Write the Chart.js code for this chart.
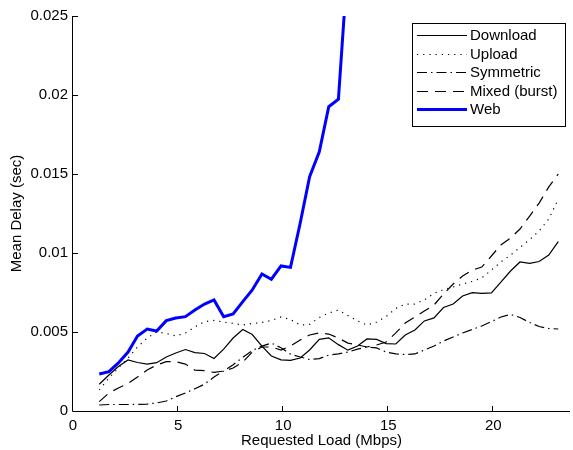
<!DOCTYPE html>
<html lang="en">
<head>
<meta charset="UTF-8">
<title>Mean Delay vs Requested Load</title>
<script src="https://cdn.jsdelivr.net/npm/chart.js"></script>
<style>
    body {
        margin: 0;
        padding: 0;
        background: white;
    }
</style>
</head>
<body>
<canvas id="myChart" width="573" height="450"></canvas>
<script>
    // requested load (Mbps), one entry per measurement point
    const loads = [1.25, 1.71, 2.16, 2.62, 3.07, 3.53, 3.98, 4.44, 4.89, 5.35,
        5.80, 6.26, 6.71, 7.17, 7.62, 8.08, 8.53, 8.99, 9.44, 9.90,
        10.35, 10.81, 11.26, 11.72, 12.17, 12.63, 13.08, 13.54, 13.99, 14.45,
        14.90, 15.36, 15.81, 16.27, 16.72, 17.18, 17.63, 18.09, 18.54, 19.00,
        19.45, 19.91, 20.36, 20.82, 21.27, 21.73, 22.18, 22.64, 23.09];

    // mean delay (sec)
    const download = [0.00169, 0.00228, 0.00282, 0.00323, 0.00307, 0.00297, 0.00306, 0.00342, 0.00367, 0.00389,
        0.0037, 0.00364, 0.00332, 0.00392, 0.00462, 0.00516, 0.00484, 0.00411, 0.00348, 0.00324,
        0.0032, 0.00335, 0.00386, 0.00453, 0.00463, 0.0042, 0.00385, 0.00411, 0.00456, 0.00453,
        0.00427, 0.00424, 0.00481, 0.00513, 0.0057, 0.00589, 0.00655, 0.00677, 0.00728, 0.00749,
        0.00744, 0.00747, 0.00816, 0.00886, 0.00943, 0.00935, 0.00946, 0.00987, 0.01072];
    const upload = [0.00133, 0.00209, 0.00272, 0.00335, 0.00405, 0.00462, 0.005, 0.00491, 0.00475, 0.00494,
        0.00532, 0.00566, 0.00573, 0.00563, 0.00554, 0.00544, 0.00554, 0.0056, 0.00573, 0.00595,
        0.00579, 0.00544, 0.00548, 0.00592, 0.0062, 0.00639, 0.00604, 0.0057, 0.00544, 0.00563,
        0.00598, 0.00649, 0.00677, 0.00677, 0.00703, 0.00744, 0.00769, 0.00785, 0.00804, 0.0082,
        0.00842, 0.00892, 0.00943, 0.00987, 0.01035, 0.01085, 0.01139, 0.01215, 0.0134];
    const symmetric = [0.00038, 0.00041, 0.00041, 0.00041, 0.00042, 0.00044, 0.00051, 0.00063, 0.0009, 0.00114,
        0.00141, 0.0017, 0.00215, 0.00253, 0.00293, 0.0034, 0.00383, 0.00411, 0.0043, 0.004,
        0.0036, 0.00342, 0.00326, 0.00332, 0.00354, 0.00361, 0.00373, 0.00392, 0.00405, 0.00399,
        0.00373, 0.00361, 0.00358, 0.00361, 0.00386, 0.00411, 0.00443, 0.00468, 0.00494, 0.00516,
        0.00538, 0.00566, 0.00595, 0.00611, 0.00592, 0.0056, 0.00535, 0.00522, 0.00519];
    const mixed = [0.00059, 0.00114, 0.00146, 0.00174, 0.00215, 0.00259, 0.00291, 0.00312, 0.00312, 0.00297,
        0.00259, 0.00255, 0.00244, 0.00253, 0.00272, 0.0031, 0.00373, 0.00405, 0.00405, 0.00386,
        0.00411, 0.00449, 0.00481, 0.00494, 0.00487, 0.00462, 0.0043, 0.00418, 0.00405, 0.00418,
        0.00437, 0.00494, 0.00557, 0.00595, 0.00633, 0.00671, 0.0074, 0.00804, 0.00854, 0.00892,
        0.00911, 0.00981, 0.01051, 0.01095, 0.01152, 0.01234, 0.01316, 0.01418, 0.015];
    // web goes off the top of the axes after ~13 Mbps
    const web = [0.00234, 0.00249, 0.00304, 0.00373, 0.00475, 0.00519, 0.00506, 0.00572, 0.00589, 0.00597,
        0.00639, 0.00677, 0.00703, 0.00597, 0.00614, 0.00692, 0.00766, 0.00867, 0.00834, 0.00918,
        0.00909, 0.01188, 0.01483, 0.01641, 0.01926, 0.01973, 0.0285];

    const xTicks = [0, 5, 10, 15, 20];
    const xTickLabels = ['0', '5', '10', '15', '20'];
    const yTicks = [0, 0.005, 0.01, 0.015, 0.02, 0.025];
    const yTickLabels = ['0', '0.005', '0.01', '0.015', '0.02', '0.025'];

    const seriesNames = ['Download', 'Upload', 'Symmetric', 'Mixed (burst)', 'Web'];

    const FONT = 'Liberation Sans, Arial, Helvetica, sans-serif';

    function toPoints(values) {
        return values.map((v, i) => ({ x: loads[i], y: v }));
    }

    const datasets = [
        { label: seriesNames[0], data: toPoints(download), borderColor: 'black', borderWidth: 1.2, borderDash: [], order: 5 },
        { label: seriesNames[1], data: toPoints(upload), borderColor: 'black', borderWidth: 1.2, borderDash: [1.2, 5], order: 4 },
        { label: seriesNames[2], data: toPoints(symmetric), borderColor: 'black', borderWidth: 1.2, borderDash: [10, 4, 1.5, 4], order: 3 },
        { label: seriesNames[3], data: toPoints(mixed), borderColor: 'black', borderWidth: 1.2, borderDash: [11, 7], order: 2 },
        { label: seriesNames[4], data: toPoints(web), borderColor: '#0000ff', borderWidth: 3, borderDash: [], order: 1 }
    ];
    datasets.forEach(d => {
        d.pointRadius = 0;
        d.fill = false;
        d.tension = 0;
    });

    // matlab style: left/bottom axis lines, inward ticks, legend box in upper right
    const matlabAxes = {
        id: 'matlabAxes',
        afterDraw(chart) {
            const ctx = chart.ctx;
            const a = chart.chartArea;
            const xs = chart.scales.x;
            const ys = chart.scales.y;
            ctx.save();
            ctx.strokeStyle = '#000';
            ctx.lineWidth = 1;
            ctx.setLineDash([]);
            ctx.beginPath();
            ctx.moveTo(a.left - 0.5, a.top);
            ctx.lineTo(a.left - 0.5, a.bottom + 0.5);
            ctx.lineTo(a.right, a.bottom + 0.5);
            xTicks.forEach(v => {
                const px = Math.round(xs.getPixelForValue(v)) - 0.5;
                ctx.moveTo(px, a.bottom);
                ctx.lineTo(px, a.bottom - 5);
            });
            yTicks.forEach(v => {
                const py = Math.round(ys.getPixelForValue(v)) + 0.5;
                ctx.moveTo(a.left, py);
                ctx.lineTo(a.left + 5, py);
            });
            ctx.stroke();

            // legend
            const bx = 412.5, by = 23.5, bw = 153, bh = 103;
            ctx.fillStyle = 'white';
            ctx.fillRect(bx, by, bw, bh);
            ctx.strokeStyle = '#000';
            ctx.strokeRect(bx, by, bw, bh);
            ctx.font = '15px ' + FONT;
            ctx.textBaseline = 'middle';
            ctx.textAlign = 'left';
            chart.data.datasets.forEach((d, i) => {
                const y = Math.round(35 + 18.6 * i) + 0.5;
                ctx.strokeStyle = d.borderColor;
                ctx.lineWidth = d.borderWidth;
                ctx.setLineDash(d.borderDash);
                ctx.beginPath();
                ctx.moveTo(417, y);
                ctx.lineTo(467, y);
                ctx.stroke();
                ctx.fillStyle = '#000';
                ctx.fillText(d.label, 470, y);
            });
            ctx.restore();
        }
    };

    const ctx = document.getElementById('myChart').getContext('2d');
    const myChart = new Chart(ctx, {
        type: 'line',
        data: { datasets: datasets },
        options: {
            responsive: false,
            animation: false,
            devicePixelRatio: 1,
            layout: { padding: { left: 0, right: 3, top: 16, bottom: 0 } },
            plugins: {
                legend: { display: false },
                tooltip: { enabled: false }
            },
            scales: {
                x: {
                    type: 'linear',
                    min: 0,
                    max: 23.65,
                    grid: { display: false, drawTicks: false },
                    border: { display: false },
                    afterBuildTicks: s => { s.ticks = xTicks.map(v => ({ value: v })); },
                    afterFit: s => { s.height = 39; },
                    ticks: {
                        color: '#000',
                        font: { family: FONT, size: 15 },
                        padding: 6,
                        maxRotation: 0,
                        callback: (v, i) => xTickLabels[i]
                    },
                    title: {
                        display: true,
                        text: 'Requested Load (Mbps)',
                        color: '#000',
                        font: { family: FONT, size: 15, lineHeight: 1 },
                        padding: { top: 0, bottom: 2 }
                    }
                },
                y: {
                    min: 0,
                    max: 0.025,
                    grid: { display: false, drawTicks: false },
                    border: { display: false },
                    afterBuildTicks: s => { s.ticks = yTicks.map(v => ({ value: v })); },
                    afterFit: s => { s.width = 73; },
                    ticks: {
                        color: '#000',
                        font: { family: FONT, size: 15 },
                        padding: 5,
                        callback: (v, i) => yTickLabels[i]
                    },
                    title: {
                        display: true,
                        text: 'Mean Delay (sec)',
                        color: '#000',
                        font: { family: FONT, size: 15, lineHeight: 1.2 },
                        padding: { top: 8, bottom: 0 }
                    }
                }
            }
        },
        plugins: [matlabAxes]
    });
</script>
</body>
</html>
